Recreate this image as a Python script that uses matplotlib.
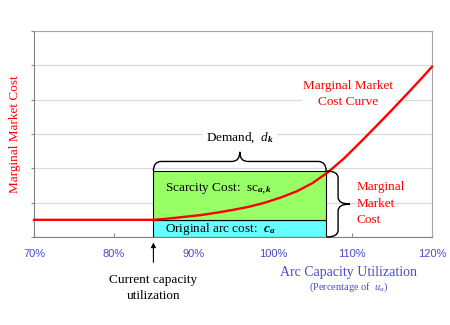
import numpy as np
import matplotlib.pyplot as plt
from matplotlib.path import Path
from matplotlib.patches import PathPatch, Rectangle

plt.rcParams['mathtext.fontset'] = 'custom'
plt.rcParams['mathtext.rm'] = 'Liberation Serif'
plt.rcParams['mathtext.it'] = 'Liberation Serif:italic'
plt.rcParams['mathtext.bf'] = 'Liberation Serif:bold:italic'

# utilization (%) vs marginal market cost
util = [70, 85, 87, 89, 91, 93, 95, 97, 99, 101, 103, 105, 107, 109, 111, 113, 115, 117, 119, 120]
cost = [0.5, 0.5, 0.54, 0.59, 0.64, 0.71, 0.79, 0.88, 1.0, 1.15, 1.33, 1.57, 1.9, 2.3, 2.76, 3.23,
        3.71, 4.2, 4.7, 4.96]

current_util = 85
demand_end = 106.7
arc_cost = 0.5
market_cost = 1.92

xticks = [70, 80, 90, 100, 110, 120]
xtick_labels = ['70%', '80%', '90%', '100%', '110%', '120%']

serif = 'Liberation Serif'
blue = '#4a4ad0'


def brace(ax, pts, lw=1.0):
    codes = [Path.MOVETO, Path.CURVE3, Path.CURVE3, Path.LINETO, Path.CURVE3, Path.CURVE3,
             Path.CURVE3, Path.CURVE3, Path.LINETO, Path.CURVE3, Path.CURVE3]
    ax.add_patch(PathPatch(Path(pts, codes), fill=False, lw=lw, color='black',
                           clip_on=False, zorder=5))


fig = plt.figure(figsize=(4.5, 3.25), dpi=100)
ax = fig.add_axes([0.0756, 0.2708, 0.8844, 0.6338])

ax.set_xlim(70, 120)
ax.set_ylim(0, 6)
ax.set_yticks(range(0, 7))
ax.set_yticklabels([])
ax.yaxis.grid(True, color='#d9d9d9', lw=0.9)
ax.set_axisbelow(True)
ax.set_xticks(xticks)
ax.set_xticklabels(xtick_labels, family='Liberation Sans', fontsize=8, color=blue)
ax.tick_params(axis='x', direction='in', length=3, color='#888888', pad=9)
ax.tick_params(axis='y', direction='out', length=2, color='#888888')
for s in ['left', 'bottom']:
    ax.spines[s].set_color('#808080')
for s in ['top', 'right']:
    ax.spines[s].set_color('#a6a6a6')

ax.add_patch(Rectangle((current_util, 0), demand_end - current_util, arc_cost,
                       facecolor='#66ffff', edgecolor='black', lw=0.8, zorder=2))
ax.add_patch(Rectangle((current_util, arc_cost), demand_end - current_util, market_cost - arc_cost,
                       facecolor='#99ff66', edgecolor='black', lw=0.8, zorder=2))

ax.plot(util, cost, color='red', lw=1.7, zorder=4, clip_on=False)

ax.text(86.5, 1.4, r'Scarcity Cost:  sc$_{\mathbf{a,k}}$', family=serif, fontsize=9.5, va='center')
ax.text(86.5, 0.22, r'Original arc cost:  $\mathbf{c}_{\mathbf{a}}$', family=serif, fontsize=9.5, va='center')

# top brace (demand)
x0, x1 = current_util, demand_end
xm = (x0 + x1) / 2
y0, yb, yt = market_cost, 2.2, 2.48
r = 1.0
brace(ax, [(x0, y0), (x0, yb), (x0 + r, yb), (xm - r, yb), (xm, yb), (xm, yt),
           (xm, yb), (xm + r, yb), (x1 - r, yb), (x1, yb), (x1, y0)])
ax.text(xm, 2.9, r'Demand,  $d_{\mathbf{k}}$', family=serif, fontsize=9.5, ha='center', va='center',
        bbox=dict(facecolor='white', edgecolor='none', pad=2), zorder=3)

# right brace (marginal market cost)
xb, xt = 108.2, 109.7
ym = market_cost / 2
rr = 0.2
brace(ax, [(x1 + 0.1, 0), (xb, 0), (xb, rr), (xb, ym - rr), (xb, ym), (xt, ym),
           (xb, ym), (xb, ym + rr), (xb, market_cost - rr), (xb, market_cost), (x1 + 0.1, market_cost)])
ax.text(110.5, 0.97, 'Marginal\nMarket\nCost', family=serif, fontsize=9.5, color='red',
        ha='left', va='center', linespacing=1.5)

ax.text(109.5, 4.17, 'Marginal Market\nCost Curve', family=serif, fontsize=9.5, color='red',
        ha='center', va='center', linespacing=1.45,
        bbox=dict(facecolor='white', edgecolor='none', pad=1), zorder=3)

ax.set_ylabel('Marginal Market Cost', family=serif, fontsize=9.5, color='red', labelpad=4)

ax.annotate('', xy=(current_util, -0.08), xytext=(current_util, -0.82),
            arrowprops=dict(arrowstyle='-|>', color='black', lw=0.8, mutation_scale=7),
            annotation_clip=False)
ax.text(current_util, -1.48, 'Current capacity\nutilization', family=serif, fontsize=9.5,
        ha='center', va='center', linespacing=1.4)

ax.text(109.5, -1.02, 'Arc Capacity Utilization', family=serif, fontsize=10, color=blue,
        ha='center', va='center')
ax.text(109.5, -1.46, r'(Percentage of  $u_a$)', family=serif, fontsize=7.5, color=blue,
        ha='center', va='center')

fig.savefig('out.png', dpi=100)
